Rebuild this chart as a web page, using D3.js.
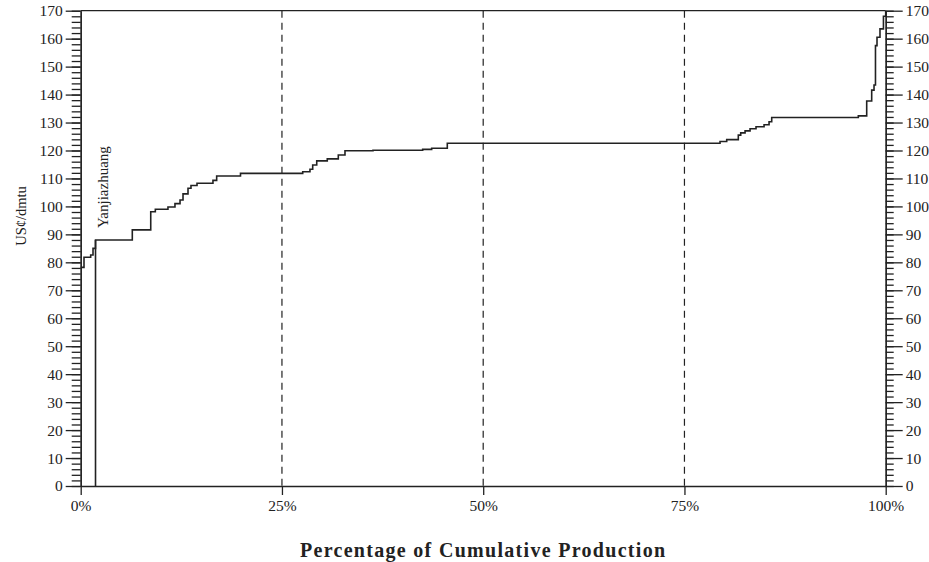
<!DOCTYPE html>
<html>
<head>
<meta charset="utf-8">
<script src="https://cdn.jsdelivr.net/npm/d3@7"></script>
<style>
  body { margin: 0; background: #fff; }
  svg { display: block; }
  text { font-family: "Liberation Serif", "DejaVu Serif", serif; fill: #222; }
</style>
</head>
<body>
<svg id="chart"></svg>
<script>
// cost curve data: each step ends at cumulative % and has a cash cost (US¢/dmtu)
const stepEnd = [0.41, 1.24, 1.53, 1.84, 6.41, 8.70, 9.27, 10.84, 11.71, 12.34, 12.71, 13.33, 13.70, 14.45,
  16.43, 16.89, 19.85, 27.58, 28.48, 28.82, 29.32, 30.63, 32.00, 32.83, 36.31, 42.48, 43.60, 45.54,
  79.42, 80.25, 81.69, 81.99, 82.53, 83.15, 83.89, 84.89, 85.51, 85.84, 96.60, 97.64, 98.26, 98.55,
  98.73, 98.92, 99.29, 99.72, 100];
const stepCost = [78.2, 81.8, 82.6, 85.0, 88.0, 91.6, 98.1, 99.0, 99.8, 101.0, 102.3, 104.5, 106.5, 107.5,
  108.3, 109.3, 110.9, 111.8, 112.4, 113.3, 114.8, 116.3, 117.0, 118.4, 119.9, 120.1, 120.4, 120.8,
  122.6, 123.2, 123.9, 125.5, 126.3, 127.0, 127.8, 128.5, 129.2, 130.3, 131.8, 132.4, 137.7, 141.6,
  143.4, 157.5, 160.5, 163.5, 168.0];
// highlighted mine
const markerName = "Yanjiazhuang";
const markerPct = 1.84;
const markerCost = 88.0;

const xTicks = [0, 25, 50, 75, 100];
const gridLines = [25, 50, 75];

/***********************
 * dimensions
 ************************/
const width = 929, height = 562;
const margin = { top: 10.7, right: 43.3, bottom: 76, left: 80.7 };
const innerW = width - margin.left - margin.right;
const innerH = height - margin.top - margin.bottom;

const svg = d3.select("#chart").attr("width", width).attr("height", height);
const g = svg.append("g").attr("transform", `translate(${margin.left},${margin.top})`);

const x = d3.scaleLinear().domain([0, 100]).range([0, innerW]);
const y = d3.scaleLinear().domain([0, 170]).range([innerH, 0]);

const ink = "#222";

// dashed quartile lines
g.selectAll(".grid")
  .data(gridLines)
  .join("line")
  .attr("x1", d => x(d)).attr("x2", d => x(d))
  .attr("y1", 0).attr("y2", innerH)
  .attr("stroke", ink).attr("stroke-width", 1.2)
  .attr("stroke-dasharray", "7,5");

// top frame line
g.append("line")
  .attr("x1", 0).attr("x2", innerW).attr("y1", 0).attr("y2", 0)
  .attr("stroke", ink).attr("stroke-width", 1.3);

// y axes (minor + major)
const minor = d3.range(0, 171, 2);
function styleAxis(sel) {
  sel.selectAll("path, line").attr("stroke", ink).attr("stroke-width", 1.3);
  sel.selectAll("text").attr("font-size", 15.5).attr("fill", ink)
    .style("font-family", '"Liberation Serif", serif');
}
g.append("g").call(d3.axisLeft(y).tickValues(minor).tickSize(9).tickSizeOuter(0).tickFormat("")).call(styleAxis);
g.append("g").call(d3.axisLeft(y).ticks(17).tickSize(15).tickSizeOuter(0).tickPadding(3)).call(styleAxis);
g.append("g").attr("transform", `translate(${innerW},0)`)
  .call(d3.axisRight(y).tickValues(minor).tickSize(8).tickSizeOuter(0).tickFormat("")).call(styleAxis);
g.append("g").attr("transform", `translate(${innerW},0)`)
  .call(d3.axisRight(y).ticks(17).tickSize(17).tickSizeOuter(0).tickPadding(3)).call(styleAxis);

// x axis
g.append("g").attr("transform", `translate(0,${innerH})`)
  .call(d3.axisBottom(x).tickValues(xTicks).tickSize(9).tickSizeOuter(0).tickPadding(5)
    .tickFormat(d => d + "%"))
  .call(styleAxis);

// step curve
const pts = [];
stepEnd.forEach((e, i) => {
  const s = i === 0 ? 0 : stepEnd[i - 1];
  pts.push([s, stepCost[i]], [e, stepCost[i]]);
});
pts.push([100, 170]);
g.append("path")
  .datum(pts)
  .attr("fill", "none")
  .attr("stroke", ink)
  .attr("stroke-width", 1.6)
  .attr("d", d3.line().x(d => x(d[0])).y(d => y(d[1])));

// marker line for the highlighted mine
g.append("line")
  .attr("x1", x(markerPct)).attr("x2", x(markerPct))
  .attr("y1", y(0)).attr("y2", y(markerCost))
  .attr("stroke", ink).attr("stroke-width", 1.6);
g.append("text")
  .attr("transform", `translate(${x(markerPct) + 12},${y(markerCost) - 12}) rotate(-90)`)
  .attr("font-size", 15)
  .text(markerName);

// axis titles
svg.append("text")
  .attr("transform", `translate(26,216) rotate(-90)`)
  .attr("text-anchor", "middle")
  .attr("font-size", 14.5)
  .text("US¢/dmtu");
svg.append("text")
  .attr("x", margin.left + innerW / 2)
  .attr("y", 557)
  .attr("text-anchor", "middle")
  .attr("font-size", 20)
  .attr("font-weight", "bold")
  .attr("letter-spacing", 1.3)
  .text("Percentage of Cumulative Production");
</script>
</body>
</html>
